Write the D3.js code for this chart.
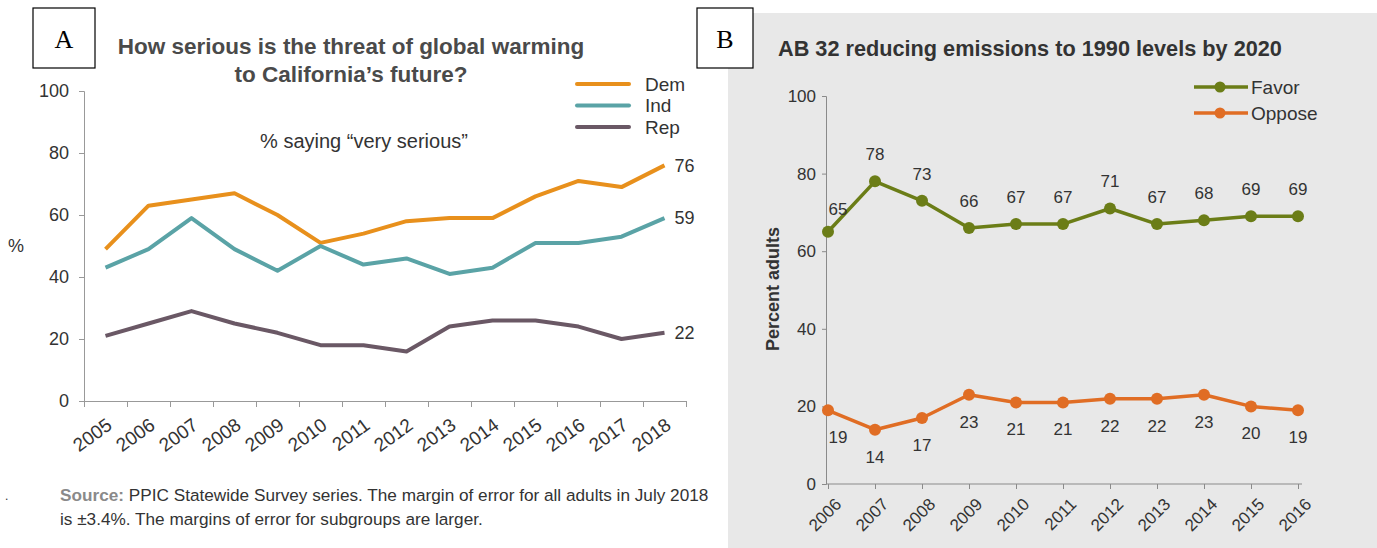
<!DOCTYPE html>
<html><head><meta charset="utf-8">
<script src="https://cdn.jsdelivr.net/npm/d3@7"></script>
<style>body{margin:0;background:#fff}svg{display:block}</style>
</head><body>
<svg id="c" width="1377" height="548"></svg>
<script>
// ---- Panel A data ----
const yearsA = [2005,2006,2007,2008,2009,2010,2011,2012,2013,2014,2015,2016,2017,2018];
const dem = [49,63,65,67,60,51,54,58,59,59,66,71,69,76];
const ind = [43,49,59,49,42,50,44,46,41,43,51,51,53,59];
const rep = [21,25,29,25,22,18,18,16,24,26,26,24,20,22];
const seriesNamesA = ["Dem","Ind","Rep"];
const yTicksA = [0,20,40,60,80,100];
// ---- Panel B data ----
const yearsB = [2006,2007,2008,2009,2010,2011,2012,2013,2014,2015,2016];
const favor = [65,78,73,66,67,67,71,67,68,69,69];
const oppose = [19,14,17,23,21,21,22,22,23,20,19];
const seriesNamesB = ["Favor","Oppose"];
const yTicksB = [0,20,40,60,80,100];

const svg = d3.select("#c");
const FA = "'Liberation Sans', Arial, sans-serif";
const FB = "'Liberation Sans', Arial, sans-serif";

// ================= Panel A =================
const colA = {Dem:"#E8901C", Ind:"#5AA3A6", Rep:"#6A5865"};
const gA = svg.append("g");
gA.append("rect").attr("x",33).attr("y",8).attr("width",62).attr("height",60).attr("fill","#fff").attr("stroke","#000").attr("stroke-width",1.2);
gA.append("text").attr("x",64).attr("y",48).attr("text-anchor","middle").attr("font-family","'Liberation Serif', serif").attr("font-size",26).attr("fill","#000").text("A");
gA.append("text").attr("x",351).attr("y",54).attr("text-anchor","middle").attr("font-family",FA).attr("font-weight","bold").attr("font-size",22.5).attr("fill","#4a4a4a").text("How serious is the threat of global warming");
gA.append("text").attr("x",351).attr("y",82).attr("text-anchor","middle").attr("font-family",FA).attr("font-weight","bold").attr("font-size",22.5).attr("fill","#4a4a4a").text("to California\u2019s future?");
gA.append("text").attr("x",364).attr("y",148).attr("text-anchor","middle").attr("font-family",FA).attr("font-size",20).attr("fill","#333").text("% saying \u201cvery serious\u201d");

const xA = d3.scaleBand().domain(yearsA).range([84,686]);
const yA = d3.scaleLinear().domain([0,100]).range([401,91]);
const yAxA = gA.append("g").attr("transform","translate(84,0)").call(d3.axisLeft(yA).tickValues(yTicksA).tickSize(5).tickPadding(10));
yAxA.select(".domain").attr("stroke","#999");
yAxA.selectAll(".tick line").attr("stroke","#999");
yAxA.selectAll(".tick text").attr("font-family",FA).attr("font-size",18).attr("fill","#333");
const bounds = yearsA.map(d=>xA(d)).concat([xA.range()[1]]);
const xLinA = d3.scaleLinear().domain([84,686]).range([84,686]);
const xAxA = gA.append("g").attr("transform","translate(0,401)").call(d3.axisBottom(xLinA).tickValues(bounds).tickFormat("").tickSize(6).tickSizeOuter(0));
xAxA.select(".domain").attr("stroke","#999");
xAxA.selectAll(".tick line").attr("stroke","#999");
gA.selectAll(".xlabA").data(yearsA).join("text")
  .attr("transform",d=>`translate(${xA(d)+xA.bandwidth()/2},${417}) rotate(-36)`)
  .attr("text-anchor","end").attr("dy","0.7em").attr("font-family",FA).attr("font-size",19).attr("fill","#333").text(d=>d);
gA.append("text").attr("x",16).attr("y",252).attr("text-anchor","middle").attr("font-family",FA).attr("font-size",18).attr("fill","#333").text("%");

const dataA = {Dem:dem, Ind:ind, Rep:rep};
const lineA = d3.line().x((d,i)=>xA(yearsA[i])+xA.bandwidth()/2).y(d=>yA(d));
seriesNamesA.forEach(s=>{
  gA.append("path").attr("d",lineA(dataA[s])).attr("fill","none").attr("stroke",colA[s]).attr("stroke-width",4).attr("stroke-linejoin","round");
  const last = dataA[s][dataA[s].length-1];
  gA.append("text").attr("x",xA(yearsA[yearsA.length-1])+xA.bandwidth()/2+10).attr("y",yA(last)).attr("dy","0.35em")
    .attr("font-family",FA).attr("font-size",18).attr("fill","#333").text(last);
});
seriesNamesA.forEach((s,i)=>{
  const y = 84 + i*21.5;
  gA.append("line").attr("x1",577).attr("x2",629).attr("y1",y).attr("y2",y).attr("stroke",colA[s]).attr("stroke-width",4).attr("stroke-linecap","round");
  gA.append("text").attr("x",645).attr("y",y).attr("dy","0.35em").attr("font-family",FA).attr("font-size",19).attr("fill","#333").text(s);
});
const src = gA.append("text").attr("x",60).attr("y",501).attr("font-family",FA).attr("font-size",17.2).attr("fill","#333");
src.append("tspan").attr("fill","#8a8a8a").attr("font-weight","bold").text("Source:");
src.append("tspan").text(" PPIC Statewide Survey series. The margin of error for all adults in July 2018");
gA.append("text").attr("x",60).attr("y",525).attr("font-family",FA).attr("font-size",17.2).attr("fill","#333").text("is \u00b13.4%. The margins of error for subgroups are larger.");
gA.append("text").attr("x",5).attr("y",500).attr("font-family",FA).attr("font-size",12).attr("fill","#333").text(".");

// ================= Panel B =================
const colB = {Favor:"#6B7D17", Oppose:"#E06D24"};
const gB = svg.append("g");
gB.append("rect").attr("x",728).attr("y",13).attr("width",649).attr("height",535).attr("fill","#E8E8E8");
gB.append("rect").attr("x",697).attr("y",8).attr("width",56).attr("height",60).attr("fill","#fff").attr("stroke","#000").attr("stroke-width",1.2);
gB.append("text").attr("x",725).attr("y",48).attr("text-anchor","middle").attr("font-family","'Liberation Serif', serif").attr("font-size",26).attr("fill","#000").text("B");
gB.append("text").attr("x",778).attr("y",56).attr("font-family",FB).attr("font-weight","bold").attr("font-size",21.7).attr("fill","#333").text("AB 32 reducing emissions to 1990 levels by 2020");

const xB = d3.scalePoint().domain(yearsB).range([828,1298]);
const yB = d3.scaleLinear().domain([0,100]).range([484,96]);
const yAxB = gB.append("g").attr("transform","translate(826,0)").call(d3.axisLeft(yB).tickValues(yTicksB).tickSize(4).tickPadding(6));
yAxB.select(".domain").attr("stroke","#8a8a8a");
yAxB.selectAll(".tick line").attr("stroke","#8a8a8a");
yAxB.selectAll(".tick text").attr("font-family",FB).attr("font-size",17).attr("fill","#333");
const xAxB = gB.append("g").attr("transform","translate(0,484)").call(d3.axisBottom(xB).tickSize(5).tickSizeOuter(0).tickFormat(""));
xAxB.select(".domain").attr("stroke","#8a8a8a").attr("d","M826,0H1302");
xAxB.selectAll(".tick line").attr("stroke","#8a8a8a");
gB.selectAll(".xlabB").data(yearsB).join("text")
  .attr("transform",d=>`translate(${xB(d)+6},${497}) rotate(-45)`)
  .attr("text-anchor","end").attr("dy","0.7em").attr("font-family",FB).attr("font-size",17).attr("fill","#333").text(d=>d);
gB.append("text").attr("transform","translate(779,289) rotate(-90)").attr("text-anchor","middle").attr("font-family",FB).attr("font-weight","bold").attr("font-size",18).attr("fill","#333").text("Percent adults");

const dataB = {Favor:favor, Oppose:oppose};
const lineB = d3.line().x((d,i)=>xB(yearsB[i])).y(d=>yB(d));
seriesNamesB.forEach(s=>{
  gB.append("path").attr("d",lineB(dataB[s])).attr("fill","none").attr("stroke",colB[s]).attr("stroke-width",3.5).attr("stroke-linejoin","round");
  gB.selectAll(".pt"+s).data(dataB[s]).join("circle").attr("cx",(d,i)=>xB(yearsB[i])).attr("cy",d=>yB(d)).attr("r",6).attr("fill",colB[s]);
  const off = s==="Favor" ? -27 : 27;
  gB.selectAll(".lb"+s).data(dataB[s]).join("text")
    .attr("x",(d,i)=>xB(yearsB[i]) + (i===0?10:0)).attr("y",(d,i)=>yB(d)+off+(s==="Favor"&&i===0?4:0)).attr("dy","0.35em")
    .attr("text-anchor","middle").attr("font-family",FB).attr("font-size",17).attr("fill","#333").text(d=>d);
});
seriesNamesB.forEach((s,i)=>{
  const y = 87 + i*26;
  gB.append("line").attr("x1",1194).attr("x2",1248).attr("y1",y).attr("y2",y).attr("stroke",colB[s]).attr("stroke-width",3.5);
  gB.append("circle").attr("cx",1220).attr("cy",y).attr("r",5.5).attr("fill",colB[s]);
  gB.append("text").attr("x",1251).attr("y",y).attr("dy","0.35em").attr("font-family",FB).attr("font-size",19).attr("fill","#333").text(s);
});
</script>
</body></html>
